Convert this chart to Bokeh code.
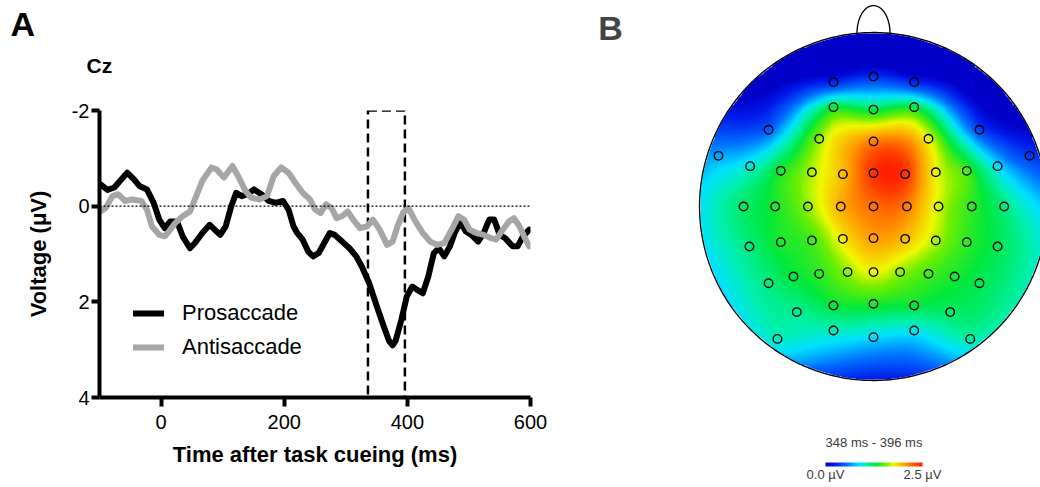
import numpy as np
from bokeh.plotting import figure
from bokeh.models import (Range1d, FixedTicker, Span, Label, Legend, LegendItem,
                          LinearColorMapper, Title)
from bokeh.layouts import row, column
from bokeh.embed import file_html
from bokeh.resources import INLINE

# ------------------------------------------------------------------ data
pro_time_ms = [-99, -87, -76, -55, -44, -35, -23, -12, -3, 6, 15, 26, 35, 47, 55, 67, 79, 87, 96,
               105, 114, 122, 131, 140, 151, 163, 175, 186, 198, 207, 215, 221, 230, 239, 247, 256,
               265, 274, 282, 294, 306, 317, 326, 338, 349, 361, 370, 376, 381, 390, 399, 408, 416,
               425, 434, 443, 451, 460, 469, 477, 486, 495, 504, 515, 524, 533, 541, 550, 559, 571,
               579, 588, 598]
pro_uv = [-0.46, -0.34, -0.39, -0.70, -0.56, -0.42, -0.35, -0.07, 0.28, 0.46, 0.32, 0.32, 0.63,
          0.88, 0.77, 0.56, 0.39, 0.49, 0.60, 0.42, 0.0, -0.28, -0.21, -0.25, -0.35, -0.25, -0.11,
          -0.07, -0.11, 0.07, 0.42, 0.56, 0.70, 0.95, 1.05, 0.98, 0.77, 0.56, 0.60, 0.74, 0.88,
          1.05, 1.26, 1.61, 2.04, 2.49, 2.81, 2.91, 2.81, 2.39, 1.89, 1.68, 1.75, 1.82, 1.47, 0.98,
          0.88, 1.05, 0.84, 0.56, 0.32, 0.53, 0.60, 0.74, 0.56, 0.28, 0.28, 0.60, 0.67, 0.84, 0.84,
          0.63, 0.49]

anti_time_ms = [-99, -90, -79, -70, -58, -47, -32, -23, -15, -3, 6, 15, 23, 35, 47, 55, 67, 82, 90,
                102, 116, 125, 137, 146, 160, 172, 183, 195, 207, 218, 230, 242, 250, 259, 268, 277,
                285, 294, 303, 312, 323, 335, 344, 355, 367, 376, 384, 393, 402, 413, 425, 437, 448,
                460, 472, 483, 492, 501, 512, 524, 536, 544, 553, 565, 573, 582, 591, 598]
anti_uv = [0.11, 0.04, -0.21, -0.25, -0.11, -0.14, -0.11, 0.07, 0.42, 0.60, 0.63, 0.49, 0.35, 0.21,
           0.11, -0.14, -0.53, -0.81, -0.77, -0.60, -0.84, -0.63, -0.32, -0.18, -0.14, -0.21, -0.63,
           -0.81, -0.70, -0.49, -0.28, -0.14, 0.07, 0.14, -0.04, 0.04, 0.25, 0.21, 0.11, 0.28, 0.46,
           0.42, 0.28, 0.49, 0.81, 0.74, 0.42, 0.14, 0.04, 0.32, 0.56, 0.74, 0.81, 0.77, 0.49, 0.21,
           0.28, 0.49, 0.56, 0.60, 0.67, 0.70, 0.53, 0.32, 0.25, 0.42, 0.67, 0.84]

series_names = ["Prosaccade", "Antisaccade"]
x_ticks = [0, 200, 400, 600]
y_ticks = [-2, 0, 2, 4]
x_limits = [-100, 600]
y_limits = [-2, 4]
window_ms = [336, 396]

# topographic map: electrode positions (unit head radius) and amplitudes (µV)
elec_x = [-0.230, 0.000, 0.234,
          -0.230, 0.000, 0.234,
          -0.603, -0.312, 0.000, 0.316, 0.609,
          -0.891, -0.709, -0.533, -0.354, -0.176, 0.000, 0.182, 0.358, 0.536, 0.713, 0.897,
          -0.747, -0.565, -0.377, -0.188, 0.000, 0.192, 0.374, 0.565, 0.751,
          -0.713, -0.533, -0.354, -0.176, 0.000, 0.182, 0.358, 0.536, 0.713,
          -0.603, -0.460, -0.312, -0.149, 0.000, 0.153, 0.316, 0.466, 0.609,
          -0.441, -0.230, 0.000, 0.234, 0.441,
          -0.552, -0.230, 0.000, 0.234, 0.556]
elec_y = [0.715, 0.747, 0.715,
          0.571, 0.557, 0.571,
          0.441, 0.389, 0.374, 0.389, 0.441,
          0.291, 0.232, 0.205, 0.197, 0.186, 0.192, 0.186, 0.197, 0.205, 0.232, 0.291,
          0.0, 0.0, 0.0, 0.0, 0.0, 0.0, 0.0, 0.0, 0.0,
          -0.230, -0.205, -0.195, -0.186, -0.182, -0.186, -0.195, -0.205, -0.230,
          -0.441, -0.402, -0.387, -0.377, -0.377, -0.377, -0.387, -0.402, -0.441,
          -0.607, -0.569, -0.559, -0.569, -0.607,
          -0.761, -0.713, -0.751, -0.713, -0.761]
elec_uv = [0.25, 0.3, 0.25,
           1.3, 1.25, 1.3,
           0.5, 1.6, 2.15, 1.75, 0.4,
           0.7, 0.95, 1.35, 1.65, 1.95, 2.4, 2.4, 1.75, 1.45, 0.85, 0.35,
           1.2, 1.35, 1.6, 2.0, 2.2, 2.15, 1.7, 1.4, 1.15,
           1.15, 1.35, 1.45, 1.8, 2.05, 1.95, 1.65, 1.4, 1.25,
           1.15, 1.3, 1.4, 1.6, 1.75, 1.6, 1.45, 1.35, 1.25,
           1.1, 1.3, 1.35, 1.3, 1.2,
           1.0, 1.0, 0.85, 0.9, 1.05]
map_window_ms = [348, 396]
map_limits_uv = [0.0, 2.5]

# ------------------------------------------------------------------ styles
FONT = "Liberation Sans"
W, H = 1040, 487
LW = 560                     # width of panel A
FL, FR, FT, FB = 99, 30, 110, 90   # panel A borders

# ------------------------------------------------------------------ panel A
p = figure(width=LW, height=H, output_backend="svg", toolbar_location=None,
           frame_width=LW - FL - FR, frame_height=H - FT - FB,
           x_range=Range1d(x_limits[0], x_limits[1]),
           y_range=Range1d(y_limits[1], y_limits[0]),
           min_border_left=FL, min_border_right=FR, min_border_top=FT, min_border_bottom=FB)
p.title.visible = False
p.xgrid.visible = False
p.ygrid.visible = False
p.outline_line_color = None
p.background_fill_color = "white"
p.border_fill_color = "white"

for ax in (p.xaxis[0], p.yaxis[0]):
    ax.axis_line_width = 4
    ax.axis_line_color = "black"
    ax.major_tick_line_width = 4
    ax.major_tick_line_color = "black"
    ax.major_tick_in = 0
    ax.minor_tick_line_color = None
    ax.major_label_text_font = FONT
    ax.major_label_text_font_size = "20px"
    ax.major_label_text_color = "black"
    ax.axis_label_text_font = FONT
    ax.axis_label_text_font_size = "22px"
    ax.axis_label_text_font_style = "bold"
    ax.axis_label_text_color = "black"

p.xaxis.ticker = FixedTicker(ticks=x_ticks)
p.yaxis.ticker = FixedTicker(ticks=y_ticks)
p.yaxis.major_label_overrides = {t: str(t) for t in y_ticks}
p.xaxis.major_tick_out = 9
p.xaxis.major_label_standoff = 8
p.xaxis.axis_label = "Time after task cueing (ms)"
p.xaxis.axis_label_standoff = 10
p.yaxis.major_tick_out = 8
p.yaxis.major_label_standoff = 2
p.yaxis.axis_label = "Voltage (\u03bcV)"
p.yaxis.axis_label_standoff = 18

p.add_layout(Span(location=0, dimension="width", line_color="black", line_width=1.2,
                  line_dash="2 2"))

p.quad(left=[window_ms[0]], right=[window_ms[1]], top=[y_limits[0]], bottom=[y_limits[1]],
       fill_color=None, line_color="black", line_width=2.5, line_dash="9 5")

r_pro = p.line(pro_time_ms, pro_uv, line_color="black", line_width=6,
               line_join="round", line_cap="round")
r_anti = p.line(anti_time_ms, anti_uv, line_color="#a6a6a6", line_width=6,
                line_join="round", line_cap="round")

legend = Legend(items=[LegendItem(label=series_names[0], renderers=[r_pro]),
                       LegendItem(label=series_names[1], renderers=[r_anti])],
                location=(34, 33), padding=0, margin=0, spacing=0,
                glyph_width=31, glyph_height=34, label_height=34, label_standoff=18,
                label_text_font=FONT, label_text_font_size="22px", label_text_color="black",
                border_line_color=None, background_fill_alpha=0)
p.add_layout(legend)

# panel letter and channel name as titles stacked above the frame
p.add_layout(Title(text="Cz", text_font=FONT, text_font_size="21px", text_font_style="bold",
                   align="left", offset=86 - FL, standoff=68, text_color="black"), "above")
p.add_layout(Title(text="A", text_font=FONT, text_font_size="34px", text_font_style="bold",
                   align="left", offset=10 - FL, standoff=-50, text_color="black"), "above")

# ------------------------------------------------------------------ panel B
RW = W - LW
CX, CY, R = 873 - LW, 206, 174      # head centre / radius in panel pixels

q = figure(width=RW, height=H, output_backend="svg", toolbar_location=None,
           frame_width=RW, frame_height=H,
           x_range=Range1d(-CX / R, (RW - CX) / R),
           y_range=Range1d(-(H - CY) / R, CY / R),
           min_border=0)
q.title.visible = False
q.axis.visible = False
q.xgrid.visible = False
q.ygrid.visible = False
q.outline_line_color = None
q.background_fill_color = "white"
q.border_fill_color = "white"

# colour map (blue - cyan - green - yellow - red)
stops = [(0.00, (0, 0, 200)), (0.08, (0, 25, 235)), (0.22, (0, 110, 255)),
         (0.34, (0, 225, 255)), (0.42, (0, 240, 170)), (0.52, (0, 232, 60)),
         (0.62, (110, 238, 0)), (0.70, (240, 248, 0)), (0.82, (255, 160, 0)),
         (0.92, (255, 80, 0)), (1.00, (255, 25, 0))]
sp = np.array([s[0] for s in stops])
sc = np.array([s[1] for s in stops], dtype=float)
tt = np.linspace(0, 1, 256)
palette = ["#%02x%02x%02x" % tuple(int(round(np.interp(t, sp, sc[:, k]))) for k in range(3))
           for t in tt]
mapper = LinearColorMapper(palette=palette, low=map_limits_uv[0], high=map_limits_uv[1],
                           nan_color=(255, 255, 255, 0))

# biharmonic spline interpolation of electrode values over the head
ex, ey, ev = np.array(elec_x), np.array(elec_y), np.array(elec_uv)


def green(r):
    with np.errstate(divide="ignore", invalid="ignore"):
        g = r ** 2 * (np.log(r) - 1.0)
    return np.where(r == 0, 0.0, g)


wts = np.linalg.solve(green(np.hypot(ex[:, None] - ex[None, :], ey[:, None] - ey[None, :])), ev)
N = 360
g = np.linspace(-1, 1, N)
GX, GY = np.meshgrid(g, g)
field = green(np.hypot(GX[..., None] - ex, GY[..., None] - ey)) @ wts
field[GX ** 2 + GY ** 2 > 1.0] = np.nan
q.image(image=[field], x=-1, y=-1, dw=2, dh=2, color_mapper=mapper)

# head outline and nose
th = np.linspace(0, 2 * np.pi, 400)
q.line(np.cos(th), np.sin(th), line_color="black", line_width=1.3)
tn = np.linspace(0, np.pi, 60)
q.line(0.095 * np.cos(tn), 0.995 + 0.16 * np.sin(tn), line_color="black", line_width=1.3)

q.scatter(elec_x, elec_y, marker="circle", size=8.5, fill_alpha=0, line_color="black",
          line_width=1.4)

# colour bar
cb_left, cb_right = (825 - LW - CX) / R, (922 - LW - CX) / R
cb_top, cb_bot = (CY - 462) / R, (CY - 466) / R
q.image(image=[np.linspace(map_limits_uv[0], map_limits_uv[1], 256)[None, :]],
        x=cb_left, y=cb_bot, dw=cb_right - cb_left, dh=cb_top - cb_bot, color_mapper=mapper)
q.add_layout(Label(x=(cb_left + cb_right) / 2, y=(CY - 442) / R,
                   text="%d ms - %d ms" % tuple(map_window_ms), text_font=FONT,
                   text_font_size="13px", text_color="#3a3a3a", text_align="center",
                   text_baseline="middle"))
q.add_layout(Label(x=cb_left, y=(CY - 474) / R, text="%.1f \u00b5V" % map_limits_uv[0],
                   text_font=FONT, text_font_size="13px", text_color="#3a3a3a",
                   text_align="center", text_baseline="middle"))
q.add_layout(Label(x=cb_right, y=(CY - 474) / R, text="%.1f \u00b5V" % map_limits_uv[1],
                   text_font=FONT, text_font_size="13px", text_color="#3a3a3a",
                   text_align="center", text_baseline="middle"))
q.add_layout(Label(x=(610 - LW - CX) / R, y=(CY - 27) / R, text="B", text_font=FONT,
                   text_font_size="34px", text_font_style="bold", text_align="center",
                   text_baseline="middle"))

layout = row(column(p), column(q), spacing=0)
open("out.html", "w").write(file_html(layout, INLINE))
